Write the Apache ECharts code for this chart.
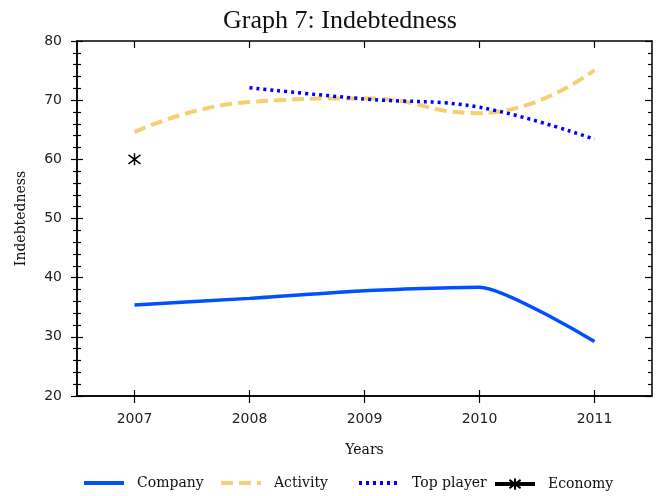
<!DOCTYPE html>
<html>
<head>
<meta charset="utf-8">
<script src="https://cdn.jsdelivr.net/npm/echarts@6/dist/echarts.min.js"></script>
<style>
  html, body { margin: 0; padding: 0; background: #fff; }
  #chart { width: 656px; height: 496px; }
</style>
</head>
<body>
<div id="chart"></div>
<script>
  const years = ['2007', '2008', '2009', '2010', '2011'];
  const company = [35.4, 36.5, 37.8, 38.4, 29.2];
  const activity = [64.6, 69.7, 70.3, 67.8, 75.1];
  const topPlayer = [null, 72.1, 70.2, 68.8, 63.4];
  const economy = [60, null, null, null, null];

  const chart = echarts.init(document.getElementById('chart'));

  const tickFont = { fontFamily: 'DejaVu Sans', fontSize: 14, color: '#222' };
  const serif = 'DejaVu Serif';
  const axisLine = { show: true, lineStyle: { color: '#000', width: 1.5 } };
  const star = 'path://M6,0 L6,12 M1.5,1.5 L10.5,10.5 M1.5,10.5 L10.5,1.5';

  function yAx(extra) {
    return Object.assign({
      type: 'value', min: 20, max: 80, interval: 10,
      axisLine: axisLine, splitLine: { show: false },
      axisLabel: { show: false },
      minorTick: { show: true, splitNumber: 5, length: 4, lineStyle: { color: '#000', width: 1.2 } },
      axisTick: { show: true, length: 6, lineStyle: { color: '#000', width: 1.2 } }
    }, extra);
  }

  function xAx(extra) {
    return Object.assign({
      type: 'category', data: years, boundaryGap: true,
      axisLine: axisLine, splitLine: { show: false },
      axisLabel: { show: false },
      axisTick: { show: true, alignWithLabel: true, length: 7, lineStyle: { color: '#000', width: 1.2 } }
    }, extra);
  }

  function leg(name, left, showMark) {
    return {
      data: [name], left: left, top: 476, padding: 0,
      itemWidth: 40, itemHeight: 14,
      itemStyle: showMark ? {} : { opacity: 0 },
      lineStyle: { width: 4 },
      textStyle: { fontFamily: serif, fontSize: 14, color: '#111', padding: [0, 0, 0, 8] }
    };
  }

  chart.setOption({
    animation: false,
    title: {
      text: 'Graph 7: Indebtedness', left: 335, top: 3, textAlign: 'center',
      textStyle: { fontFamily: 'Liberation Serif', fontSize: 26, fontWeight: 'normal', color: '#111' }
    },
    grid: { left: 77, right: 4, top: 41, bottom: 100 },
    legend: [leg('Company', 82), leg('Activity', 219), leg('Top player', 357), leg('Economy', 493, true)],
    xAxis: [
      xAx({
        position: 'bottom',
        axisLabel: Object.assign({ show: true, margin: 16 }, tickFont),
        name: 'Years', nameLocation: 'middle', nameGap: 47,
        nameTextStyle: { fontFamily: serif, fontSize: 14, color: '#111' }
      }),
      xAx({ position: 'bottom', axisTick: { show: true, inside: true, alignWithLabel: true, length: 6, lineStyle: { color: '#000', width: 1.2 } } }),
      xAx({ position: 'top', axisTick: { show: true, inside: true, alignWithLabel: true, length: 7, lineStyle: { color: '#000', width: 1.2 } } })
    ],
    yAxis: [
      yAx({
        position: 'left',
        axisLabel: Object.assign({ show: true, margin: 15 }, tickFont),
        name: 'Indebtedness', nameLocation: 'middle', nameGap: 49,
        nameTextStyle: { fontFamily: serif, fontSize: 14, color: '#111' }
      }),
      yAx({ position: 'left', axisTick: { show: true, inside: true, length: 6, lineStyle: { color: '#000', width: 1.2 } },
        minorTick: { show: true, inside: true, splitNumber: 5, length: 4, lineStyle: { color: '#000', width: 1.2 } } }),
      yAx({ position: 'right', axisTick: { show: true, inside: true, length: 7, lineStyle: { color: '#000', width: 1.2 } },
        minorTick: { show: true, inside: true, splitNumber: 5, length: 4, lineStyle: { color: '#000', width: 1.2 } } })
    ],
    series: [
      {
        name: 'Company', type: 'line', data: company, smooth: 0.2, symbol: 'none',
        itemStyle: { color: '#0050ff' },
        lineStyle: { color: '#0050ff', width: 3.5 }
      },
      {
        name: 'Activity', type: 'line', data: activity, smooth: 0.5, symbol: 'none',
        itemStyle: { color: '#f5cf72' },
        lineStyle: { color: '#f5cf72', width: 4, type: [12, 6] }
      },
      {
        name: 'Top player', type: 'line', data: topPlayer, smooth: 0.4, symbol: 'none',
        itemStyle: { color: '#0000ff' },
        lineStyle: { color: '#0000ff', width: 3.5, type: [3, 4] }
      },
      {
        name: 'Economy', type: 'line', data: economy, symbol: star, symbolSize: 12, showSymbol: true,
        itemStyle: { color: 'none', borderColor: '#000', borderWidth: 1.5 },
        lineStyle: { color: '#000', width: 4 }
      }
    ]
  });
</script>
</body>
</html>
